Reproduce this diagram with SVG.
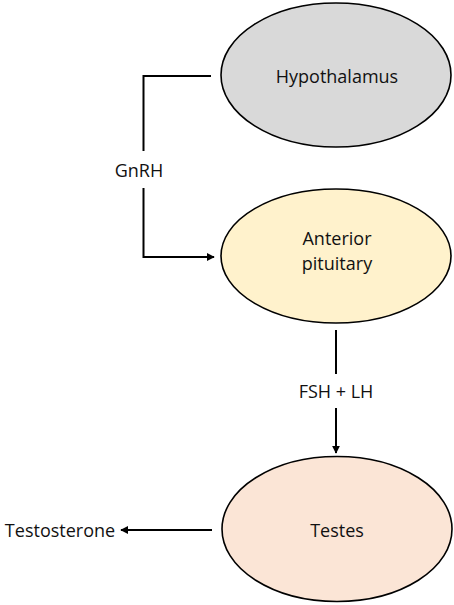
<svg xmlns="http://www.w3.org/2000/svg" width="454" height="605" viewBox="0 0 454 605">
<style>
.node{stroke:#000;stroke-width:1.6}
.lbl{font-family:"Open Sans","Liberation Sans",sans-serif;font-size:18px;fill:#111;text-anchor:middle}
.conn{fill:none;stroke:#000;stroke-width:2}
</style>
<defs>
<marker id="arr" viewBox="0 0 10 10" refX="9" refY="5" markerWidth="4" markerHeight="4" orient="auto" markerUnits="strokeWidth">
<path d="M0,0 L10,5 L0,10 Z" fill="#000"/>
</marker>
</defs>
<rect width="454" height="605" fill="#fff"/>
<g id="connectors">
<path class="conn" d="M211,76 H143.5 V151"/>
<path class="conn" d="M143.5,188 V257 H214" marker-end="url(#arr)"/>
<path class="conn" d="M336,330 V374"/>
<path class="conn" d="M336,408 V453" marker-end="url(#arr)"/>
<path class="conn" d="M212,530 H121" marker-end="url(#arr)"/>
<text class="lbl" x="139" y="177">GnRH</text>
<text class="lbl" x="336" y="398">FSH + LH</text>
<text class="lbl" x="60" y="537">Testosterone</text>
</g>
<g id="hypothalamus">
<ellipse class="node" cx="336" cy="75" rx="115" ry="72" fill="#d9d9d9"/>
<text class="lbl" x="337" y="83">Hypothalamus</text>
</g>
<g id="anterior-pituitary">
<ellipse class="node" cx="336" cy="256" rx="115" ry="67" fill="#fff2cc"/>
<text class="lbl" x="337" y="245">Anterior</text>
<text class="lbl" x="337" y="270">pituitary</text>
</g>
<g id="testes">
<ellipse class="node" cx="337" cy="529" rx="115" ry="72.5" fill="#fbe5d6"/>
<text class="lbl" x="337" y="537">Testes</text>
</g>
</svg>
